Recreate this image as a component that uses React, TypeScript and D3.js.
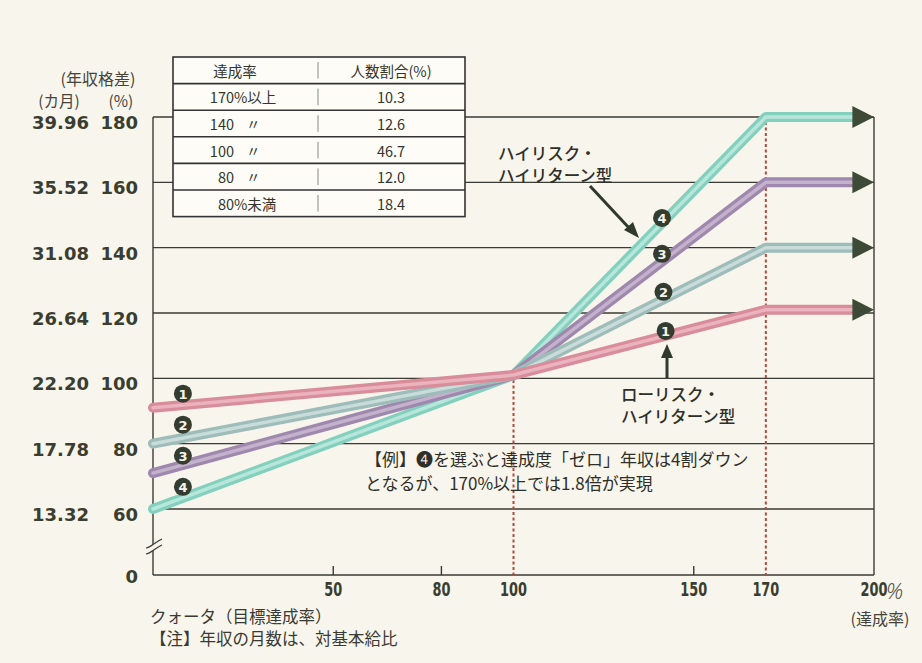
import React from 'react';
import * as d3 from 'd3';

// Quota achievement rate (%) at each bend of the pay curves; the last point is where the arrowhead starts
const quotaPoints = [0, 100, 170, 194];

// Annual pay (% of standard) for the four pay plans
const planIds = [1, 2, 3, 4];
const plan1 = [91, 101, 121, 121];
const plan2 = [80, 101, 140, 140];
const plan3 = [71, 101, 160, 160];
const plan4 = [60, 101, 180, 180];

// Y axis ticks: pay ratio (%) and the matching months of base salary
const percentTicks = [180, 160, 140, 120, 100, 80, 60];
const monthTicks = ['39.96', '35.52', '31.08', '26.64', '22.20', '17.78', '13.32'];

// X axis ticks (achievement rate %)
const quotaTicks = [50, 80, 100, 150, 170, 200];
const quotaMinorTicks = [50, 80, 150];
const quotaMarkers = [100, 170];

// Distribution table
const tableHeaders = ['達成率', '人数割合(%)'];
const tableRates = ['170', '140', '100', '80', '80'];
const tableRateSuffix = ['%以上', '〃', '〃', '〃', '%未満'];
const tableShares = [10.3, 12.6, 46.7, 12.0, 18.4];

// Number tags placed along the curves: [quota, pay]
const leftTags = [[8.3, 95.3], [8.3, 85.8], [8.3, 76.3], [8.3, 66.8]];
const rightTags = [[142.2, 114.5], [141.6, 126.5], [141.2, 138.1], [141.2, 149.1]];

const plans = [plan1, plan2, plan3, plan4];
const edgeColors = ['#d98d9b', '#9dbcba', '#9f88ad', '#84d0bf'];
const coreColors = ['#efbdc5', '#d3e4e1', '#cdbdd4', '#c4ebe1'];

const W = 922;
const H = 663;
const BG = '#f7f5ec';
const INK = '#33352c';
const JP = "'Noto Sans CJK JP', 'Noto Sans CJK SC', sans-serif";
const NUM = "'DejaVu Sans', sans-serif";

export default function App() {
  const x = d3.scaleLinear().domain([0, 200]).range([153, 874]);
  const y = d3.scaleLinear().domain([60, 180]).range([509, 117]);
  const baseY = y(60) + 66;
  const left = x(0);
  const right = x(200);

  const line = d3
    .line<number>()
    .x((_, i) => x(quotaPoints[i]))
    .y((d) => y(d));

  const tableX0 = 173;
  const tableX1 = 465;
  const tableY0 = 57;
  const rowH = 26.6;
  const colDiv = 318;
  const rowCount = tableRates.length + 1;

  const tag = (cx: number, cy: number, n: number, key: string) => (
    <g key={key}>
      <circle cx={cx} cy={cy} r={9} fill="#343c2f" />
      <text
        x={cx}
        y={cy + 0.5}
        textAnchor="middle"
        dominantBaseline="central"
        fontFamily={NUM}
        fontWeight="bold"
        fontSize={13}
        fill="#f4f4ee"
      >
        {n}
      </text>
    </g>
  );

  return (
    <svg
      width={W}
      height={H}
      viewBox={`0 0 ${W} ${H}`}
      style={{ position: 'absolute', left: 0, top: 0, display: 'block' }}
    >
      <rect x={0} y={0} width={W} height={H} fill={BG} />

      {/* horizontal grid */}
      {percentTicks.map((t) => (
        <line key={`g${t}`} x1={left} x2={right} y1={y(t)} y2={y(t)} stroke="#3b3b36" strokeWidth={1.4} />
      ))}

      {/* frame: left axis, right border, baseline */}
      <line x1={left} x2={left} y1={y(180)} y2={baseY} stroke="#3b3b36" strokeWidth={1.4} />
      <line x1={right} x2={right} y1={y(180)} y2={baseY} stroke="#3b3b36" strokeWidth={1.4} />
      <line x1={left} x2={right} y1={baseY} y2={baseY} stroke="#3b3b36" strokeWidth={1.6} />
      {quotaMinorTicks.map((t) => (
        <line key={`t${t}`} x1={x(t)} x2={x(t)} y1={baseY} y2={baseY - 9} stroke="#3b3b36" strokeWidth={1.4} />
      ))}

      {/* axis break */}
      <path
        d={`M${left - 7},${baseY - 27} C${left - 2},${baseY - 28} ${left + 2},${baseY - 33} ${left + 9},${baseY - 36} L${left + 9},${baseY - 30} C${left + 2},${baseY - 27} ${left - 2},${baseY - 22} ${left - 7},${baseY - 21} Z`}
        fill={BG}
      />
      <path
        d={`M${left - 7},${baseY - 27} C${left - 2},${baseY - 28} ${left + 2},${baseY - 33} ${left + 9},${baseY - 36}`}
        fill="none"
        stroke="#3b3b36"
        strokeWidth={1.2}
      />
      <path
        d={`M${left - 7},${baseY - 21} C${left - 2},${baseY - 22} ${left + 2},${baseY - 27} ${left + 9},${baseY - 30}`}
        fill="none"
        stroke="#3b3b36"
        strokeWidth={1.2}
      />

      {/* dashed markers at 100% and 170% */}
      {quotaMarkers.map((m, i) => (
        <line
          key={`m${m}`}
          x1={x(m)}
          x2={x(m)}
          y1={i === 0 ? y(plan1[1]) + 5 : y(plan4[2]) + 5}
          y2={baseY}
          stroke="#b24a3c"
          strokeWidth={2}
          strokeDasharray="3 2.5"
        />
      ))}

      {/* distribution table */}
      <rect
        x={tableX0}
        y={tableY0}
        width={tableX1 - tableX0}
        height={rowH * rowCount}
        fill="#fdfcf7"
        stroke="#333"
        strokeWidth={1.6}
      />
      {d3.range(1, rowCount).map((r) => (
        <line
          key={`r${r}`}
          x1={tableX0}
          x2={tableX1}
          y1={tableY0 + r * rowH}
          y2={tableY0 + r * rowH}
          stroke="#333"
          strokeWidth={1.6}
        />
      ))}
      {d3.range(rowCount).map((r) => (
        <line
          key={`c${r}`}
          x1={colDiv}
          x2={colDiv}
          y1={tableY0 + r * rowH + 5}
          y2={tableY0 + (r + 1) * rowH - 5}
          stroke="#8a8a84"
          strokeWidth={1}
        />
      ))}
      <text
        x={235}
        y={tableY0 + rowH / 2}
        textAnchor="middle"
        dominantBaseline="central"
        fontFamily={JP}
        fontSize={14.5}
        fill={INK}
      >
        {tableHeaders[0]}
      </text>
      <text
        x={391}
        y={tableY0 + rowH / 2}
        textAnchor="middle"
        dominantBaseline="central"
        fontFamily={JP}
        fontSize={14.5}
        fill={INK}
      >
        {tableHeaders[1]}
      </text>
      {tableRates.map((rate, i) => {
        const cy = tableY0 + (i + 1.5) * rowH;
        const suffix = tableRateSuffix[i];
        const ditto = suffix === '〃';
        return (
          <g key={`row${i}`} fontFamily={JP} fontSize={14.5} fill={INK}>
            <text x={234} y={cy} textAnchor="end" dominantBaseline="central">
              {rate}
            </text>
            <text x={ditto ? 246 : 234} y={cy} dominantBaseline="central">
              {suffix}
            </text>
            <text x={391} y={cy} textAnchor="middle" dominantBaseline="central">
              {tableShares[i].toFixed(1)}
            </text>
          </g>
        );
      })}

      {/* pay curves */}
      {plans
        .map((p, i) => ({ p, i }))
        .reverse()
        .map(({ p, i }) => (
          <g key={`plan${planIds[i]}`}>
            <path
              d={line(p) || ''}
              fill="none"
              stroke={edgeColors[i]}
              strokeWidth={10}
              strokeLinecap="round"
              strokeLinejoin="round"
            />
            <path
              d={line(p) || ''}
              fill="none"
              stroke={coreColors[i]}
              strokeWidth={3.5}
              strokeLinecap="round"
              strokeLinejoin="round"
              opacity={0.8}
            />
          </g>
        ))}

      {/* arrowheads at the open end */}
      {plans.map((p, i) => {
        const v = p[p.length - 1];
        const x0 = x(quotaPoints[quotaPoints.length - 1]);
        const x1 = right;
        const cy = y(v);
        return (
          <path
            key={`a${i}`}
            d={`M${x0},${cy - 11} L${x1},${cy} L${x0},${cy + 11} Z`}
            fill="#3d4a35"
          />
        );
      })}

      {/* number tags */}
      {leftTags.map(([q, v], i) => tag(x(q), y(v), planIds[i], `lt${i}`))}
      {rightTags.map(([q, v], i) => tag(x(q), y(v), planIds[i], `rt${i}`))}

      {/* y axis labels */}
      <text x={98} y={78} textAnchor="middle" dominantBaseline="central" fontFamily={JP} fontSize={16} fill="#44443c">
        (年収格差)
      </text>
      <text x={59} y={100} textAnchor="middle" dominantBaseline="central" fontFamily={JP} fontSize={15.5} fill="#44443c">
        (カ月)
      </text>
      <text x={121} y={100} textAnchor="middle" dominantBaseline="central" fontFamily={JP} fontSize={15.5} fill="#44443c">
        (%)
      </text>
      {percentTicks.map((t, i) => (
        <g key={`yl${t}`} fontFamily={NUM} fontWeight="bold" fontSize={18} fill="#3a3d2f">
          <text x={89} y={y(t) + 5.5} textAnchor="end" dominantBaseline="central">
            {monthTicks[i]}
          </text>
          <text x={138} y={y(t) + 5.5} textAnchor="end" dominantBaseline="central">
            {t}
          </text>
        </g>
      ))}
      <text
        x={138}
        y={baseY + 1}
        textAnchor="end"
        dominantBaseline="central"
        fontFamily={NUM}
        fontWeight="bold"
        fontSize={18}
        fill="#3a3d2f"
      >
        0
      </text>

      {/* x axis labels */}
      {quotaTicks.map((t) => (
        <text
          key={`xl${t}`}
          transform={`translate(${x(t)},${baseY + 15}) scale(0.68,1)`}
          textAnchor="middle"
          dominantBaseline="central"
          fontFamily={NUM}
          fontWeight="bold"
          fontSize={19}
          fill="#3a3d2f"
        >
          {t}
        </text>
      ))}
      <text
        x={right + 12}
        y={baseY + 15}
        dominantBaseline="central"
        fontFamily="'Noto Sans', sans-serif"
        fontWeight={300}
        fontStyle="italic"
        fontSize={22}
        fill="#55554d"
      >
        %
      </text>
      <text x={880} y={618} textAnchor="middle" dominantBaseline="central" fontFamily={JP} fontSize={16} fill="#44443c">
        (達成率)
      </text>
      <text x={150} y={615.5} dominantBaseline="central" fontFamily={JP} fontSize={16.5} fill="#3a3a33">
        クォータ（目標達成率）
      </text>
      <text x={150} y={637.5} dominantBaseline="central" fontFamily={JP} fontSize={16.5} fill="#3a3a33">
        【注】年収の月数は、対基本給比
      </text>

      {/* annotations */}
      <g fontFamily={JP} fontWeight={500} fontSize={16.5} fill="#2f2f2a">
        <text x={498} y={160}>ハイリスク・</text>
        <text x={498} y={182}>ハイリターン型</text>
        <text x={621} y={401}>ローリスク・</text>
        <text x={621} y={423}>ハイリターン型</text>
      </g>
      <line x1={590} y1={186} x2={630} y2={229} stroke="#2f3a2a" strokeWidth={3} />
      <path d="M639,238 L624,230 L633,222 Z" fill="#2f3a2a" />
      <line x1={667} y1={378} x2={667} y2={356} stroke="#2f3a2a" strokeWidth={3} />
      <path d="M667,344 L661,358 L673,358 Z" fill="#2f3a2a" />

      <g fontFamily={JP} fontSize={17} fill="#2f2f2a">
        <text x={365} y={466}>【例】❹を選ぶと達成度「ゼロ」年収は4割ダウン</text>
        <text x={365} y={490}>となるが、170%以上では1.8倍が実現</text>
      </g>
    </svg>
  );
}
